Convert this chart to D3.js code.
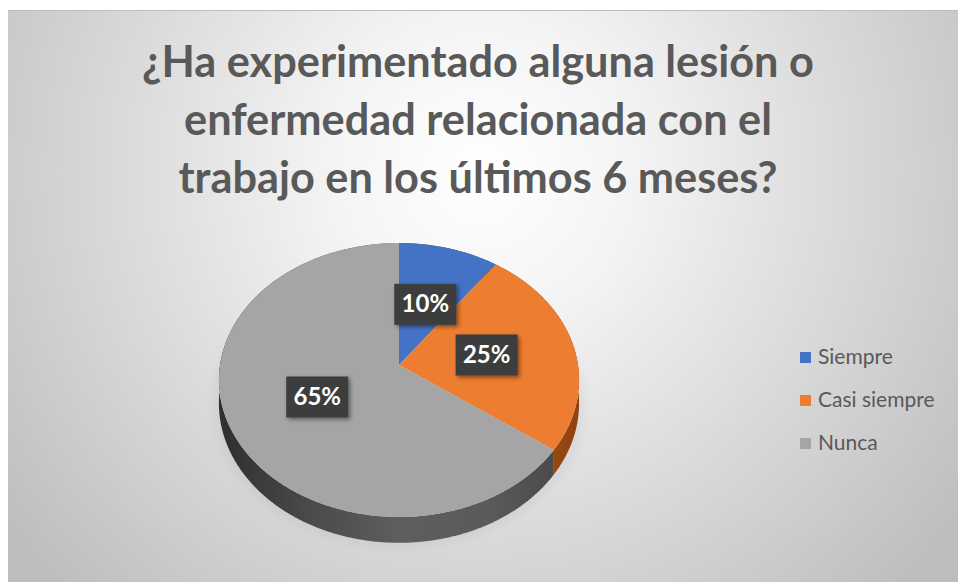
<!DOCTYPE html>
<html>
<head>
<meta charset="utf-8">
<script src="https://cdn.jsdelivr.net/npm/d3@7"></script>
<style>
  body { margin: 0; background: #ffffff; }
  svg { display: block; }
</style>
</head>
<body>
<div id="chart"></div>
<script>
// 3D pie chart: lesiones / enfermedades laborales
var titleLines = ["¿Ha experimentado alguna lesión o", "enfermedad relacionada con el", "trabajo en los últimos 6 meses?"];
var categories = ["Siempre", "Casi siempre", "Nunca"];
var values = [10, 25, 65];
var labels = ["10%", "25%", "65%"];
var colors = ["#4472c4", "#ed7d31", "#a5a5a5"];

var width = 958, height = 582;

var svg = d3.select("#chart").append("svg")
    .attr("width", width)
    .attr("height", height);

var defs = svg.append("defs");

// background gradient
var bg = defs.append("radialGradient")
    .attr("id", "bg")
    .attr("gradientUnits", "userSpaceOnUse")
    .attr("cx", 480).attr("cy", 170).attr("r", 600);
bg.append("stop").attr("offset", 0).attr("stop-color", "#ffffff");
bg.append("stop").attr("offset", 0.25).attr("stop-color", "#f4f4f4");
bg.append("stop").attr("offset", 1).attr("stop-color", "#bdbdbd");

svg.append("rect")
    .attr("x", 8).attr("y", 10)
    .attr("width", width - 8).attr("height", height - 10)
    .attr("fill", "url(#bg)");
svg.append("line")
    .attr("x1", 8).attr("x2", width).attr("y1", 10.5).attr("y2", 10.5)
    .attr("stroke", "#bdbdbd").attr("stroke-width", 1);

// shadow for the data label boxes
var shadow = defs.append("filter").attr("id", "shadow")
    .attr("x", "-30%").attr("y", "-30%").attr("width", "160%").attr("height", "160%");
shadow.append("feDropShadow")
    .attr("dx", 2).attr("dy", 2).attr("stdDeviation", 2)
    .attr("flood-color", "#000").attr("flood-opacity", 0.45);

// title
var title = svg.append("g").attr("class", "title");
title.selectAll("text")
    .data(titleLines)
    .join("text")
    .attr("x", 478)
    .attr("y", function (d, i) { return 77 + i * 58; })
    .attr("text-anchor", "middle")
    .attr("font-family", "Lato, 'Open Sans', sans-serif")
    .attr("font-weight", "bold")
    .attr("font-size", 40)
    .attr("fill", "#595959")
    .text(function (d) { return d; });

// fit the first line to the width seen in the picture
var w0 = title.select("text").node().getComputedTextLength();
title.selectAll("text").attr("font-size", 40 * 672 / w0);

// perspective projection of the pie disc
var cx = 399, cy = 365, R = 179, S = 0.756, C = 0.654, D = 5.97, T = 23;
function proj(a, r, h) {
    var u = r * Math.sin(a), v = -r * Math.cos(a);
    var k = D / (D - v * C);
    return [cx + R * u * k, cy + R * S * v * k + h * k];
}
function arcPoints(a0, a1, r, h) {
    var n = Math.max(2, Math.ceil((a1 - a0) / 0.01));
    return d3.range(n + 1).map(function (i) { return proj(a0 + (a1 - a0) * i / n, r, h); });
}

var pie = d3.pie().sort(null).value(function (d) { return d; });
var arcs = pie(values);
var line = d3.line();

// side wall gradients
var wallStops = [
    ["#2f2f2f", "#4a4a4a", "#5e5e5e", "#5a5a5a", "#454545"],
    ["#8a3f0c", "#a24d14", "#b3581b", "#ad551a", "#8f430f"],
    ["#2f2f2f", "#4a4a4a", "#5e5e5e", "#5a5a5a", "#454545"]
];
arcs.forEach(function (d, i) {
    var g = defs.append("linearGradient")
        .attr("id", "wall" + i)
        .attr("gradientUnits", "userSpaceOnUse")
        .attr("x1", cx - R).attr("x2", cx + R).attr("y1", 0).attr("y2", 0);
    wallStops[i].forEach(function (c, j) {
        g.append("stop").attr("offset", j / (wallStops[i].length - 1)).attr("stop-color", c);
    });
});

// soft floor shadow
svg.append("ellipse")
    .attr("cx", cx).attr("cy", cy + 40).attr("rx", R + 6).attr("ry", R * S + 6)
    .attr("fill", "#000").attr("opacity", 0.05)
    .style("filter", "blur(6px)");

// walls
svg.append("g").selectAll("path")
    .data(arcs)
    .join("path")
    .attr("d", function (d) {
        var top = arcPoints(d.startAngle, d.endAngle, 1, 0);
        var bot = arcPoints(d.startAngle, d.endAngle, 1, T).reverse();
        return line(top.concat(bot)) + "Z";
    })
    .attr("fill", function (d, i) { return "url(#wall" + i + ")"; });

// top faces
svg.append("g").selectAll("path")
    .data(arcs)
    .join("path")
    .attr("d", function (d) {
        var pts = [proj(0, 0, 0)].concat(arcPoints(d.startAngle, d.endAngle, 1, 0));
        return line(pts) + "Z";
    })
    .attr("fill", function (d, i) { return colors[i]; });

// data labels
var lab = svg.append("g").selectAll("g")
    .data(arcs)
    .join("g")
    .attr("transform", function (d) {
        var p = proj((d.startAngle + d.endAngle) / 2, 0.5, 0);
        return "translate(" + p[0] + "," + p[1] + ")";
    });
lab.append("rect")
    .attr("x", -31).attr("y", -20)
    .attr("width", 62).attr("height", 41)
    .attr("fill", "#3d3d3d")
    .attr("filter", "url(#shadow)");
lab.append("text")
    .attr("text-anchor", "middle")
    .attr("dy", "0.36em")
    .attr("font-family", "Lato, 'Open Sans', sans-serif")
    .attr("font-weight", "bold")
    .attr("font-size", 24)
    .attr("fill", "#ffffff")
    .text(function (d, i) { return labels[i]; });

// legend
var legend = svg.append("g").attr("transform", "translate(800,352)");
var item = legend.selectAll("g")
    .data(categories)
    .join("g")
    .attr("transform", function (d, i) { return "translate(0," + i * 43 + ")"; });
item.append("rect")
    .attr("width", 11).attr("height", 11)
    .attr("fill", function (d, i) { return colors[i]; });
item.append("text")
    .attr("x", 18).attr("y", 11.5)
    .attr("font-family", "Lato, 'Open Sans', sans-serif")
    .attr("font-size", 21)
    .attr("fill", "#595959")
    .text(function (d) { return d; });
</script>
</body>
</html>
